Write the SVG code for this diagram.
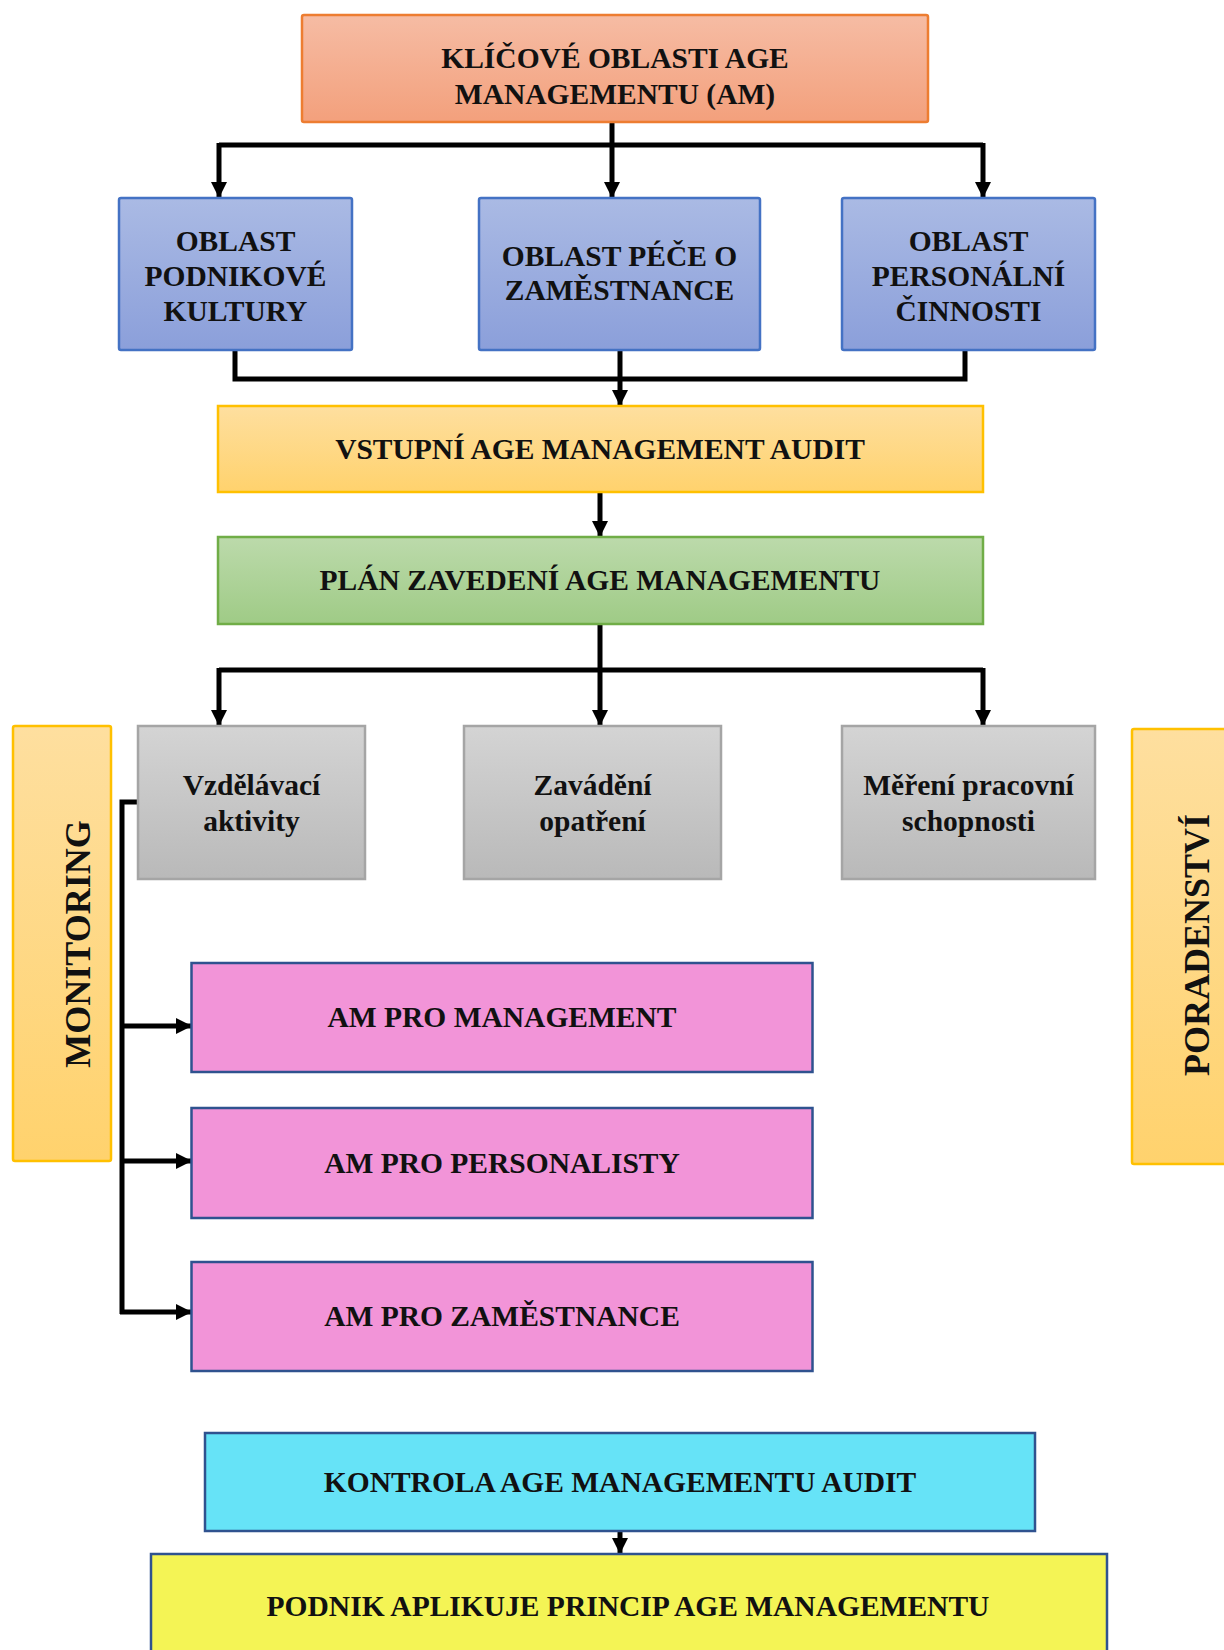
<svg xmlns="http://www.w3.org/2000/svg" width="1224" height="1650" viewBox="0 0 1224 1650">
<defs>
<linearGradient id="gOrange" x1="0" y1="0" x2="0" y2="1"><stop offset="0" stop-color="#f6bca4"/><stop offset="1" stop-color="#f3a07c"/></linearGradient>
<linearGradient id="gBlue" x1="0" y1="0" x2="0" y2="1"><stop offset="0" stop-color="#aabae4"/><stop offset="1" stop-color="#8b9fda"/></linearGradient>
<linearGradient id="gYellow" x1="0" y1="0" x2="0" y2="1"><stop offset="0" stop-color="#fedf9f"/><stop offset="1" stop-color="#ffd26d"/></linearGradient>
<linearGradient id="gGreen" x1="0" y1="0" x2="0" y2="1"><stop offset="0" stop-color="#bcdaab"/><stop offset="1" stop-color="#9fcb86"/></linearGradient>
<linearGradient id="gGray" x1="0" y1="0" x2="0" y2="1"><stop offset="0" stop-color="#d4d4d4"/><stop offset="1" stop-color="#b9b9b9"/></linearGradient>
<marker id="arr" markerUnits="userSpaceOnUse" markerWidth="18" markerHeight="18" viewBox="0 0 18 18" refX="16" refY="9" orient="auto">
<path d="M0,1 L16,9 L0,17 Z" fill="#000"/>
</marker>
<style>
.t{font-family:"Liberation Serif","Times New Roman",serif;font-weight:bold;font-size:29.5px;fill:#111;text-anchor:middle}
.tv{font-family:"Liberation Serif","Times New Roman",serif;font-weight:bold;font-size:36px;fill:#111;text-anchor:middle}
.c{fill:none;stroke:#000;stroke-width:5}
.blue{fill:url(#gBlue);stroke:#4472c4;stroke-width:2.5}
.yel{fill:url(#gYellow);stroke:#ffc000;stroke-width:2.5}
.gray{fill:url(#gGray);stroke:#a5a5a5;stroke-width:2.5}
.pink{fill:#f294d8;stroke:#2f528f;stroke-width:2.5}
</style>
</defs>
<rect width="1224" height="1650" fill="#fff"/>

<g id="connectors">
<path class="c" d="M612,122 V198" marker-end="url(#arr)"/>
<path class="c" d="M219,145 H983"/>
<path class="c" d="M219,143 V198" marker-end="url(#arr)"/>
<path class="c" d="M983,143 V198" marker-end="url(#arr)"/>
<path class="c" d="M235,350 V379 H965 V350"/>
<path class="c" d="M620,350 V406" marker-end="url(#arr)"/>
<path class="c" d="M600,492 V537" marker-end="url(#arr)"/>
<path class="c" d="M600,624 V726" marker-end="url(#arr)"/>
<path class="c" d="M219,670 H983"/>
<path class="c" d="M219,668 V726" marker-end="url(#arr)"/>
<path class="c" d="M983,668 V726" marker-end="url(#arr)"/>
<path class="c" d="M138,802 H122 V1314"/>
<path class="c" d="M120,1026 H192" marker-end="url(#arr)"/>
<path class="c" d="M120,1161 H192" marker-end="url(#arr)"/>
<path class="c" d="M120,1312 H192" marker-end="url(#arr)"/>
<path class="c" d="M620,1531 V1554" marker-end="url(#arr)"/>
</g>

<g id="n-klicove">
<rect x="302" y="15" width="626" height="107" rx="2" fill="url(#gOrange)" stroke="#ed7d31" stroke-width="2.5"/>
<text class="t" x="615" y="67.5">KLÍČOVÉ OBLASTI AGE</text>
<text class="t" x="615" y="103.5">MANAGEMENTU (AM)</text>
</g>

<g id="n-podnikove">
<rect class="blue" x="119" y="198" width="233" height="152" rx="2"/>
<text class="t" x="235.5" y="250.5">OBLAST</text>
<text class="t" x="235.5" y="285.5">PODNIKOVÉ</text>
<text class="t" x="235.5" y="321">KULTURY</text>
</g>

<g id="n-pece">
<rect class="blue" x="479" y="198" width="281" height="152" rx="2"/>
<text class="t" x="619.5" y="265.5">OBLAST PÉČE O</text>
<text class="t" x="619.5" y="300">ZAMĚSTNANCE</text>
</g>

<g id="n-personalni">
<rect class="blue" x="842" y="198" width="253" height="152" rx="2"/>
<text class="t" x="968.5" y="250.5">OBLAST</text>
<text class="t" x="968.5" y="285.5">PERSONÁLNÍ</text>
<text class="t" x="968.5" y="321">ČINNOSTI</text>
</g>

<g id="n-vstupni">
<rect class="yel" x="218" y="406" width="765" height="86"/>
<text class="t" x="600" y="458.5">VSTUPNÍ AGE MANAGEMENT AUDIT</text>
</g>

<g id="n-plan">
<rect x="218" y="537" width="765" height="87" fill="url(#gGreen)" stroke="#70ad47" stroke-width="2.5"/>
<text class="t" x="600" y="589.5">PLÁN ZAVEDENÍ AGE MANAGEMENTU</text>
</g>

<g id="n-vzdelavaci">
<rect class="gray" x="138" y="726" width="227" height="153"/>
<text class="t" x="251.5" y="794.5">Vzdělávací</text>
<text class="t" x="251.5" y="830.5">aktivity</text>
</g>

<g id="n-zavadeni">
<rect class="gray" x="464" y="726" width="257" height="153"/>
<text class="t" x="592.5" y="794.5">Zavádění</text>
<text class="t" x="592.5" y="830.5">opatření</text>
</g>

<g id="n-mereni">
<rect class="gray" x="842" y="726" width="253" height="153"/>
<text class="t" x="968.5" y="794.5">Měření pracovní</text>
<text class="t" x="968.5" y="830.5">schopnosti</text>
</g>

<g id="n-monitoring">
<rect class="yel" x="13" y="726" width="98" height="435" rx="2"/>
<text class="tv" transform="translate(90,944) rotate(-90)">MONITORING</text>
</g>

<g id="n-poradenstvi">
<rect class="yel" x="1132" y="729" width="100" height="435" rx="2"/>
<text class="tv" transform="translate(1209,945) rotate(-90)">PORADENSTVÍ</text>
</g>

<g id="n-am-management">
<rect class="pink" x="191.5" y="963" width="621" height="109"/>
<text class="t" x="502" y="1026.5">AM PRO MANAGEMENT</text>
</g>

<g id="n-am-personalisty">
<rect class="pink" x="191.5" y="1108" width="621" height="110"/>
<text class="t" x="502" y="1172.5">AM PRO PERSONALISTY</text>
</g>

<g id="n-am-zamestnance">
<rect class="pink" x="191.5" y="1262" width="621" height="109"/>
<text class="t" x="502" y="1326">AM PRO ZAMĚSTNANCE</text>
</g>

<g id="n-kontrola">
<rect x="205" y="1433" width="830" height="98" fill="#66e3f7" stroke="#2f528f" stroke-width="2.5"/>
<text class="t" x="620" y="1491.5">KONTROLA AGE MANAGEMENTU AUDIT</text>
</g>

<g id="n-podnik">
<rect x="151" y="1554" width="956" height="110" fill="#f4f455" stroke="#2f528f" stroke-width="2.5"/>
<text class="t" x="628" y="1615.5">PODNIK APLIKUJE PRINCIP AGE MANAGEMENTU</text>
</g>
</svg>
